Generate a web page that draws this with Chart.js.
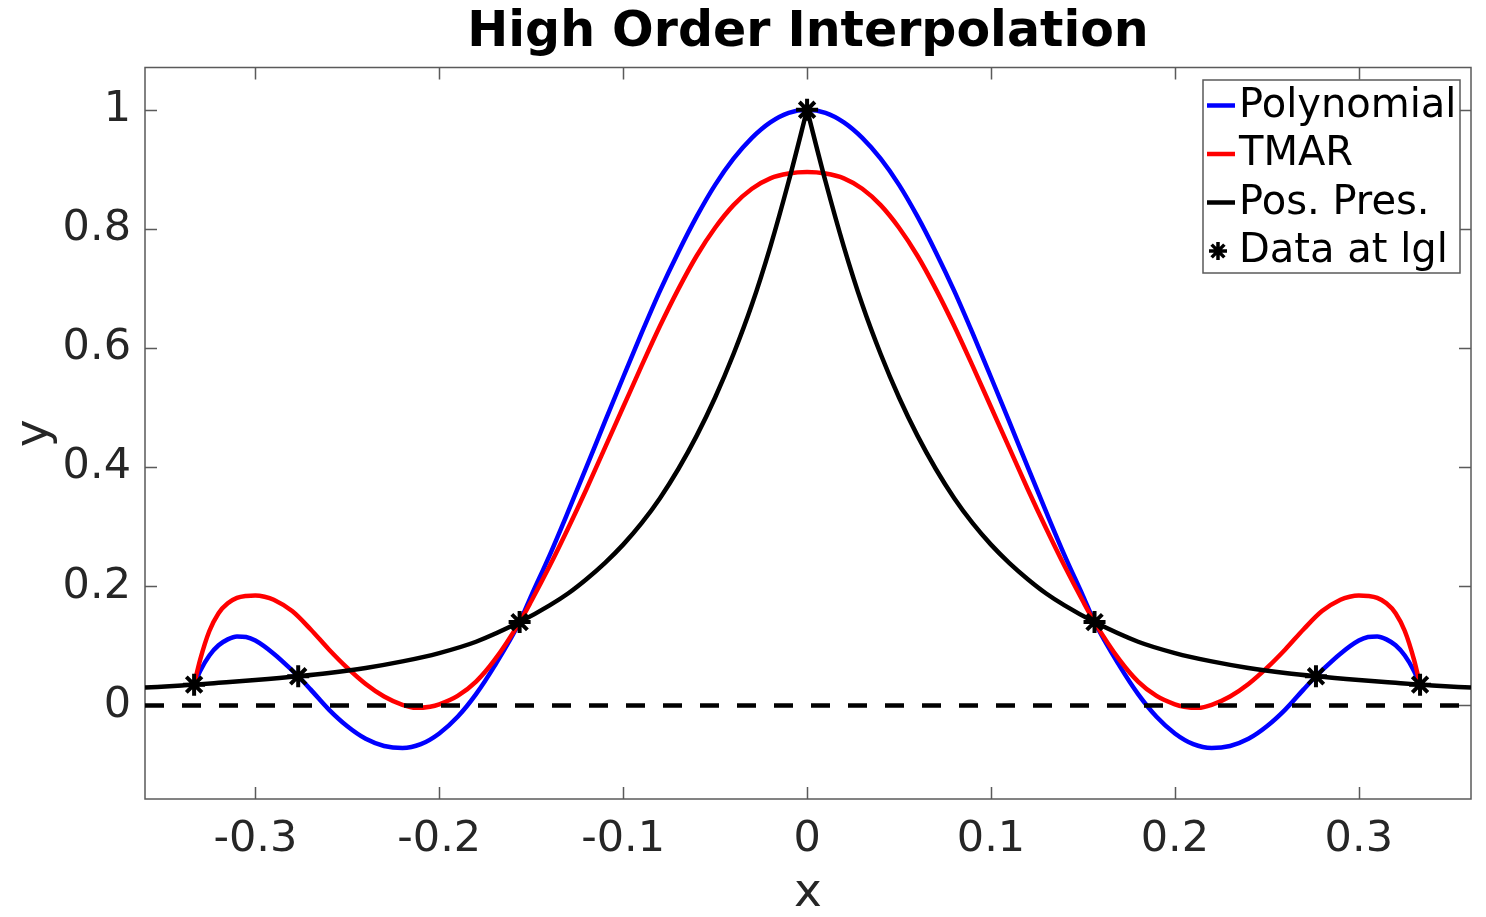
<!DOCTYPE html>
<html>
<head>
<meta charset="utf-8">
<title>High Order Interpolation</title>
<script src="https://cdn.jsdelivr.net/npm/chart.js@4.4.1/dist/chart.umd.min.js"></script>
<style>
  html, body { margin: 0; padding: 0; background: #fff; }
  #wrap { width: 1486px; height: 917px; }
</style>
</head>
<body>
<div id="wrap"><canvas id="chart" width="1486" height="917"></canvas></div>
<script>
// ─── DATA ─────────────────────────────────────────────────────────
const xTicks = [-0.3, -0.2, -0.1, 0, 0.1, 0.2, 0.3];
const yTicks = [0, 0.2, 0.4, 0.6, 0.8, 1];
const seriesNames = ['Polynomial', 'TMAR', 'Pos. Pres.', 'Data at lgl'];

// Polynomial interpolant (blue)
const xPoly = [-0.3333, -0.33, -0.325, -0.32, -0.315, -0.31, -0.305, -0.30, -0.29, -0.28, -0.2767, -0.27,
  -0.26, -0.25, -0.24, -0.23, -0.22, -0.21, -0.20, -0.19, -0.18, -0.17, -0.1563, -0.15, -0.14, -0.13,
  -0.12, -0.11, -0.10, -0.09, -0.08, -0.07, -0.06, -0.05, -0.04, -0.03, -0.02, -0.01, 0,
  0.01, 0.02, 0.03, 0.04, 0.05, 0.06, 0.07, 0.08, 0.09, 0.10, 0.11, 0.12, 0.13, 0.14, 0.15, 0.1563,
  0.17, 0.18, 0.19, 0.20, 0.21, 0.22, 0.23, 0.24, 0.25, 0.26, 0.27, 0.2767, 0.28, 0.29, 0.30, 0.305,
  0.31, 0.315, 0.32, 0.325, 0.33, 0.3333];
const yPoly = [0.035, 0.058, 0.084, 0.101, 0.111, 0.116, 0.115, 0.109, 0.087, 0.059, 0.049, 0.027,
  -0.007, -0.035, -0.056, -0.068, -0.0715, -0.065, -0.047, -0.019, 0.019, 0.066, 0.140, 0.184, 0.252, 0.325,
  0.400, 0.476, 0.551, 0.625, 0.696, 0.761, 0.821, 0.874, 0.918, 0.953, 0.979, 0.995, 1.0,
  0.995, 0.979, 0.953, 0.918, 0.874, 0.821, 0.761, 0.696, 0.625, 0.551, 0.476, 0.400, 0.325, 0.252, 0.184, 0.140,
  0.066, 0.019, -0.019, -0.047, -0.065, -0.0715, -0.068, -0.056, -0.035, -0.007, 0.027, 0.049, 0.059, 0.087, 0.109, 0.115,
  0.116, 0.111, 0.101, 0.084, 0.058, 0.035];

// TMAR (red)
const xTmar = [-0.3333, -0.33, -0.325, -0.32, -0.315, -0.31, -0.305, -0.30, -0.295, -0.29, -0.28, -0.27,
  -0.26, -0.25, -0.24, -0.23, -0.22, -0.2127, -0.205, -0.20, -0.19, -0.18, -0.17, -0.1563, -0.15, -0.14,
  -0.13, -0.12, -0.11, -0.10, -0.09, -0.08, -0.07, -0.06, -0.05, -0.04, -0.03, -0.02, -0.01, 0,
  0.01, 0.02, 0.03, 0.04, 0.05, 0.06, 0.07, 0.08, 0.09, 0.10, 0.11, 0.12, 0.13, 0.14, 0.15, 0.1563,
  0.17, 0.18, 0.19, 0.20, 0.205, 0.2127, 0.22, 0.23, 0.24, 0.25, 0.26, 0.27, 0.28, 0.29, 0.295, 0.30,
  0.305, 0.31, 0.315, 0.32, 0.325, 0.33, 0.3333];
const yTmar = [0.035, 0.077, 0.125, 0.155, 0.1715, 0.1805, 0.1838, 0.1846, 0.1825, 0.1775, 0.1585, 0.128,
  0.094, 0.063, 0.036, 0.015, 0.001, -0.004, -0.002, 0.002, 0.016, 0.040, 0.076, 0.140, 0.175, 0.234,
  0.297, 0.363, 0.432, 0.501, 0.570, 0.637, 0.699, 0.755, 0.802, 0.840, 0.8675, 0.885, 0.893, 0.8955,
  0.893, 0.885, 0.8675, 0.840, 0.802, 0.755, 0.699, 0.637, 0.570, 0.501, 0.432, 0.363, 0.297, 0.234, 0.175, 0.140,
  0.076, 0.040, 0.016, 0.002, -0.002, -0.004, 0.001, 0.015, 0.036, 0.063, 0.094, 0.128, 0.1585, 0.1775, 0.1825, 0.1846,
  0.1838, 0.1805, 0.1715, 0.155, 0.125, 0.077, 0.035];

// Positivity preserving (black), cusp at x = 0
const xPos = [-0.36, -0.34, -0.3333, -0.32, -0.30, -0.2767, -0.26, -0.24, -0.22, -0.20, -0.18, -0.1563,
  -0.14, -0.13, -0.12, -0.11, -0.10, -0.09, -0.08, -0.07, -0.06, -0.05, -0.04, -0.03, -0.02, -0.01, 0,
  0.01, 0.02, 0.03, 0.04, 0.05, 0.06, 0.07, 0.08, 0.09, 0.10, 0.11, 0.12, 0.13, 0.14, 0.1563,
  0.18, 0.20, 0.22, 0.24, 0.26, 0.2767, 0.30, 0.32, 0.3333, 0.34, 0.361];
const yPos = [0.030, 0.0337, 0.035, 0.038, 0.0427, 0.049, 0.0545, 0.063, 0.074, 0.088, 0.107, 0.140,
  0.168, 0.188, 0.212, 0.239, 0.270, 0.306, 0.348, 0.397, 0.453, 0.517, 0.590, 0.673, 0.770, 0.880, 1.0,
  0.880, 0.770, 0.673, 0.590, 0.517, 0.453, 0.397, 0.348, 0.306, 0.270, 0.239, 0.212, 0.188, 0.168, 0.140,
  0.107, 0.088, 0.074, 0.063, 0.0545, 0.049, 0.0427, 0.038, 0.035, 0.0337, 0.030];

// Data at lgl nodes (stars)
const xData = [-0.3333, -0.2767, -0.1563, 0, 0.1563, 0.2767, 0.3333];
const yData = [0.035, 0.049, 0.140, 1.0, 0.140, 0.049, 0.035];

// Zero reference (dashed)
const xZero = [-0.36, 0.361];
const yZero = [0, 0];

// ─── STYLE ────────────────────────────────────────────────────────
const FONT = "'DejaVu Sans', 'Liberation Sans', sans-serif";
const AXIS_COLOR = '#5a5a5a';
const TEXT_COLOR = '#262626';
const TICK_LEN = 12;

const pts = (xs, ys) => xs.map((x, i) => ({ x, y: ys[i] }));
const posPts = pts(xPos, yPos);

// ─── PLUGIN: MATLAB-style box with inward ticks ──────────────────
const boxTicks = {
  id: 'boxTicks',
  beforeDatasetsDraw(chart) {
    const { ctx, chartArea: a, scales: { x, y } } = chart;
    ctx.save();
    ctx.strokeStyle = AXIS_COLOR;
    ctx.lineWidth = 1.5;
    ctx.beginPath();
    xTicks.forEach(v => {
      const px = Math.round(x.getPixelForValue(v)) + 0.5;
      ctx.moveTo(px, a.bottom); ctx.lineTo(px, a.bottom - TICK_LEN);
      ctx.moveTo(px, a.top);    ctx.lineTo(px, a.top + TICK_LEN);
    });
    yTicks.forEach(v => {
      const py = Math.round(y.getPixelForValue(v)) + 0.5;
      ctx.moveTo(a.left, py);  ctx.lineTo(a.left + TICK_LEN, py);
      ctx.moveTo(a.right, py); ctx.lineTo(a.right - TICK_LEN, py);
    });
    ctx.stroke();
    ctx.strokeRect(a.left, a.top, a.width, a.height);
    ctx.restore();
  },
};

// ─── PLUGIN: boxed legend in the upper right ──────────────────────
function drawStar(ctx, cx, cy, r) {
  ctx.beginPath();
  for (let k = 0; k < 4; k++) {
    const ang = k * Math.PI / 4;
    ctx.moveTo(cx - Math.cos(ang) * r, cy - Math.sin(ang) * r);
    ctx.lineTo(cx + Math.cos(ang) * r, cy + Math.sin(ang) * r);
  }
  ctx.stroke();
}

const boxLegend = {
  id: 'boxLegend',
  afterDraw(chart) {
    const { ctx, chartArea: a } = chart;
    const w = 257, h = 193;
    const left = a.right - 11 - w, top = a.top + 12.5;
    ctx.save();
    ctx.fillStyle = '#fff';
    ctx.fillRect(left, top, w, h);
    ctx.strokeStyle = AXIS_COLOR;
    ctx.lineWidth = 1.5;
    ctx.strokeRect(left, top, w, h);

    const items = [
      { label: seriesNames[0], color: '#0000ff', star: false },
      { label: seriesNames[1], color: '#ff0000', star: false },
      { label: seriesNames[2], color: '#000000', star: false },
      { label: seriesNames[3], color: '#000000', star: true },
    ];
    ctx.font = '40px ' + FONT;
    ctx.textBaseline = 'middle';
    ctx.textAlign = 'left';
    items.forEach((it, i) => {
      const cy = top + 25.5 + i * 48.5;
      ctx.strokeStyle = it.color;
      if (it.star) {
        ctx.lineWidth = 3.5;
        drawStar(ctx, left + 15, cy, 9);
      } else {
        ctx.lineWidth = 4.5;
        ctx.beginPath();
        ctx.moveTo(left + 4, cy);
        ctx.lineTo(left + 32, cy);
        ctx.stroke();
      }
      ctx.fillStyle = '#000';
      ctx.fillText(it.label, left + 36, cy + 1);
    });
    ctx.restore();
  },
};

// ─── CHART ────────────────────────────────────────────────────────
const lineBase = {
  pointRadius: 0,
  borderWidth: 4.5,
  fill: false,
  cubicInterpolationMode: 'monotone',
};

new Chart(document.getElementById('chart'), {
  type: 'line',
  data: {
    datasets: [
      {
        label: seriesNames[3],
        data: pts(xData, yData),
        showLine: false,
        pointStyle: 'star',
        pointRadius: 11,
        pointBorderWidth: 4,
        borderColor: '#000',
        backgroundColor: '#000',
        order: 0,
      },
      {
        label: 'zero',
        data: pts(xZero, yZero),
        borderColor: '#000',
        borderDash: [19, 18],
        borderWidth: 4.5,
        pointRadius: 0,
        order: 1,
      },
      { ...lineBase, label: seriesNames[2], data: posPts.filter(p => p.x <= 0), borderColor: '#000', order: 2 },
      { ...lineBase, label: seriesNames[2], data: posPts.filter(p => p.x >= 0), borderColor: '#000', order: 2 },
      { ...lineBase, label: seriesNames[1], data: pts(xTmar, yTmar), borderColor: '#ff0000', order: 3 },
      { ...lineBase, label: seriesNames[0], data: pts(xPoly, yPoly), borderColor: '#0000ff', order: 4 },
    ],
  },
  options: {
    responsive: false,
    animation: false,
    events: [],
    layout: { padding: { left: 0, right: 10, top: 0, bottom: 0 } },
    plugins: {
      legend: { display: false },
      tooltip: { enabled: false },
      title: {
        display: true,
        text: 'High Order Interpolation',
        fullSize: false,
        color: '#000',
        font: { family: FONT, size: 49, weight: 'bold', lineHeight: 1.2 },
        padding: { top: 4, bottom: 4.7 },
      },
    },
    scales: {
      x: {
        type: 'linear',
        min: -0.36,
        max: 0.361,
        grid: { display: false, drawTicks: false },
        border: { display: false },
        afterBuildTicks: s => { s.ticks = xTicks.map(v => ({ value: v })); },
        afterFit: s => { s.height = 118; s.paddingLeft = 0; s.paddingRight = 0; },
        ticks: {
          color: TEXT_COLOR,
          font: { family: FONT, size: 43 },
          padding: 15,
          maxRotation: 0,
          autoSkip: false,
          callback: v => String(v),
        },
        title: {
          display: true,
          text: 'x',
          color: TEXT_COLOR,
          font: { family: FONT, size: 47, lineHeight: 1.0 },
          padding: { top: 0, bottom: 0 },
        },
      },
      y: {
        type: 'linear',
        min: -0.157,
        max: 1.071,
        grid: { display: false, drawTicks: false },
        border: { display: false },
        afterBuildTicks: s => { s.ticks = yTicks.map(v => ({ value: v })); },
        afterFit: s => { s.width = 145; },
        ticks: {
          color: TEXT_COLOR,
          font: { family: FONT, size: 43 },
          padding: 14,
          autoSkip: false,
          callback: v => String(v),
        },
        title: {
          display: true,
          text: 'y',
          color: TEXT_COLOR,
          font: { family: FONT, size: 47, lineHeight: 1.2 },
          padding: { top: 7, bottom: 0 },
        },
      },
    },
  },
  plugins: [boxTicks, boxLegend],
});
</script>
</body>
</html>
